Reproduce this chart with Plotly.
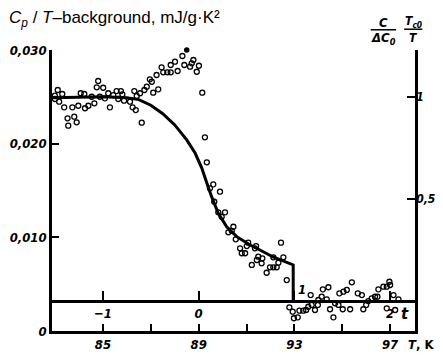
import plotly.graph_objects as go

# ---- data ----
# measured points below Tc (T in K, Cp/T - background in mJ/g K^2)
T_low = [82.99, 83.11, 83.30, 82.99, 83.17, 83.38, 83.72, 83.97, 84.25, 84.39,
         84.64, 84.07, 84.22, 84.53, 84.80, 84.74, 85.01, 84.87, 85.08, 85.22,
         85.29, 85.43, 85.57, 85.75, 85.81, 85.64, 85.88, 86.13, 86.24, 86.37,
         86.31, 86.55, 86.73, 86.62, 83.52, 83.55, 83.80, 83.90, 86.41, 86.83,
         86.96, 87.04, 87.10, 87.31, 87.24, 87.45, 87.52, 87.69, 87.83, 87.83,
         88.01, 88.12, 88.19, 88.32, 88.40, 88.64, 88.71, 88.78, 89.01, 88.92,
         89.15, 89.26, 89.34, 89.61, 89.47, 89.89, 89.65, 89.82, 90.10, 89.96,
         90.45, 90.24, 90.38, 90.55, 90.73, 90.80, 90.94, 91.01, 91.07, 91.40,
         91.22, 91.35, 91.49, 91.66, 91.43, 91.63, 91.84, 91.98, 92.12, 92.26,
         92.44, 92.12, 92.54, 92.33, 92.68]
C_low = [0.02512, 0.02573, 0.02530, 0.02477, 0.02448, 0.02388, 0.02388, 0.02405, 0.02378, 0.02405,
         0.02431, 0.02538, 0.02530, 0.02501, 0.02669, 0.02602, 0.02597, 0.02501, 0.02484, 0.02538,
         0.02388, 0.02519, 0.02562, 0.02562, 0.02527, 0.02477, 0.02459, 0.02448, 0.02388, 0.02359,
         0.02562, 0.02538, 0.02573, 0.02224, 0.02271, 0.02192, 0.02288, 0.02228, 0.02509, 0.02608,
         0.02687, 0.02661, 0.02544, 0.02580, 0.02733, 0.02815, 0.02762, 0.02762, 0.02762, 0.02840,
         0.02875, 0.02776, 0.03011, 0.02936, 0.02840, 0.02822, 0.02858, 0.02893, 0.02832, 0.02768,
         0.02544, 0.02068, 0.01801, 0.01566, 0.01523, 0.01487, 0.01380, 0.01267, 0.01267, 0.01220,
         0.01113, 0.01054, 0.01070, 0.00979, 0.00883, 0.00830, 0.00830, 0.00907, 0.00943, 0.00907,
         0.00705, 0.00883, 0.00793, 0.00776, 0.00758, 0.00723, 0.00622, 0.00680, 0.00680, 0.00680,
         0.00943, 0.00787, 0.00787, 0.00729, 0.00544]
T_filled = [88.50]
C_filled = [0.03000]

# measured points above Tc
T_high = [92.79, 92.93, 92.98, 93.14, 93.21, 93.37, 93.49, 93.58, 93.72, 93.68,
          93.86, 93.98, 94.00, 94.14, 94.19, 94.42, 94.35, 94.49, 94.63, 94.70,
          94.84, 94.88, 95.02, 95.05, 95.19, 95.33, 95.40, 95.65, 95.82, 95.88,
          96.00, 96.09, 96.23, 96.37, 96.47, 96.51, 96.72, 96.86, 96.97, 97.00,
          96.86, 97.21, 97.14, 97.35]
C_high = [0.00253, 0.00206, 0.00136, 0.00146, 0.00217, 0.00217, 0.00224, 0.00259, 0.00278, 0.00384,
          0.00224, 0.00278, 0.00331, 0.00366, 0.00445, 0.00467, 0.00338, 0.00232, 0.00146, 0.00296,
          0.00278, 0.00402, 0.00232, 0.00420, 0.00438, 0.00232, 0.00520, 0.00402, 0.00384, 0.00232,
          0.00278, 0.00320, 0.00349, 0.00366, 0.00366, 0.00445, 0.00473, 0.00473, 0.00526, 0.00491,
          0.00242, 0.00224, 0.00384, 0.00338]

# theoretical curve 1
fit_T = [82.87, 84.0, 85.0, 86.0, 86.5, 87.0, 87.5, 88.0, 88.5, 88.85, 89.13,
         89.34, 89.54, 89.82, 90.17, 90.59, 91.15, 91.56, 92.11, 92.95, 92.95]
fit_C = [0.02490, 0.02497, 0.02500, 0.02490, 0.02470, 0.02410, 0.02320, 0.02200, 0.02040,
         0.01900, 0.01740, 0.01580, 0.01434, 0.01257, 0.01113, 0.01007, 0.00918, 0.00865,
         0.00790, 0.00705, 0.00320]

# background / t-axis level (curve above Tc)
base_level = 0.00320

# axis ticks
T_ticks = [85, 87, 89, 91, 93, 95, 97]
T_ticktext = ["85", "", "89", "", "93", "", "97"]
C_ticks = [0, 0.010, 0.020, 0.030]
C_ticktext = ["0", "0,010", "0,020", "0,030"]
r_ticks = [0.5, 1]
r_ticktext = ["0,5", "1"]
t_ticks = [-1, 0, 1, 2]
t_ticktext = ["\u22121", "0", "", "2"]
t_origin_T = 89.0
t_unit_T = 4.0

# ---- figure ----
x_range = [82.87, 98.04]
y_range = [0, 0.0300]
tick_font = dict(family="DejaVu Sans Condensed", size=13, color="black",
                 style="italic", weight="bold")

fig = go.Figure()

fig.add_trace(go.Scatter(x=fit_T, y=fit_C, mode="lines",
                         line=dict(color="black", width=3), showlegend=False))
fig.add_trace(go.Scatter(x=T_low + T_high, y=C_low + C_high, mode="markers",
                         marker=dict(symbol="circle-open", size=5, color="black",
                                     line=dict(width=1.3, color="black")),
                         cliponaxis=False, showlegend=False))
fig.add_trace(go.Scatter(x=T_filled, y=C_filled, mode="markers",
                         marker=dict(symbol="circle", size=5.5, color="black"),
                         cliponaxis=False, showlegend=False))

# invisible trace on the right axis
fig.add_trace(go.Scatter(x=[x_range[0]], y=[0], yaxis="y2", mode="markers",
                         marker=dict(opacity=0), showlegend=False, hoverinfo="skip"))
# invisible trace on the t axis
t_T = [t_origin_T + t_unit_T * t for t in t_ticks]
fig.add_trace(go.Scatter(x=t_T, y=[base_level] * len(t_T), xaxis="x2", mode="markers",
                         marker=dict(opacity=0), showlegend=False, hoverinfo="skip"))

t_pos = (base_level - y_range[0]) / (y_range[1] - y_range[0])

# the page body adds an 8px offset at the top-left, so the figure is 8px smaller
fig.update_layout(
    width=435, height=347,
    margin=dict(l=44, r=28, t=42, b=24, autoexpand=False),
    paper_bgcolor="white", plot_bgcolor="white",
    xaxis=dict(range=x_range, showline=True, linecolor="black", linewidth=2.5,
               ticks="inside", ticklen=7, tickwidth=1.5, tickcolor="black",
               tickvals=T_ticks, ticktext=T_ticktext, tickfont=tick_font,
               showgrid=False, zeroline=False),
    xaxis2=dict(range=x_range, overlaying="x", anchor="free", position=t_pos,
                side="bottom", showline=True, linecolor="black", linewidth=2.5,
                ticks="inside", ticklen=9, tickwidth=1.5, tickcolor="black",
                tickvals=t_T, ticktext=t_ticktext, tickfont=tick_font,
                showgrid=False, zeroline=False),
    yaxis=dict(range=y_range, showline=True, linecolor="black", linewidth=2.5,
               ticks="inside", ticklen=7, tickwidth=1.5, tickcolor="black",
               tickvals=C_ticks, ticktext=C_ticktext, tickfont=tick_font,
               showgrid=False, zeroline=False),
    yaxis2=dict(range=[-0.153, 1.232], overlaying="y", side="right", anchor="x",
                showline=True, linecolor="black", linewidth=2.5,
                ticks="inside", ticklen=8, tickwidth=1.5, tickcolor="black",
                tickvals=r_ticks, ticktext=r_ticktext, ticklabelstandoff=-4,
                tickfont=dict(family="DejaVu Sans Condensed", size=12, color="black",
                              style="italic", weight="bold"),
                showgrid=False, zeroline=False),
)

label_font = dict(family="DejaVu Sans Condensed", size=13, color="black",
                  style="italic", weight="bold")
ann = []
# left axis title
ann.append(dict(xref="paper", yref="paper", x=-0.123, y=1.112, xanchor="left",
                yanchor="middle", showarrow=False,
                text="<i>C<sub>p</sub></i> / <i>T</i>\u2013background, mJ/g\u00b7K\u00b2",
                font=dict(family="Liberation Sans", size=17, color="black")))
# right axis titles (fractions)
frac_font = dict(family="DejaVu Sans Condensed", size=13, color="black",
                 style="italic", weight="bold")
ann.append(dict(xref="paper", yref="paper", x=0.912, y=1.098, xanchor="center",
                yanchor="middle", showarrow=False, text="C", font=frac_font))
ann.append(dict(xref="paper", yref="paper", x=0.912, y=1.040, xanchor="center",
                yanchor="middle", showarrow=False, text="\u0394C<sub>0</sub>", font=frac_font))
ann.append(dict(xref="paper", yref="paper", x=0.995, y=1.100, xanchor="center",
                yanchor="middle", showarrow=False, text="T<sub>c0</sub>",
                font=dict(family="DejaVu Sans Condensed", size=12, color="black",
                          style="italic", weight="bold")))
ann.append(dict(xref="paper", yref="paper", x=0.995, y=1.044, xanchor="center",
                yanchor="middle", showarrow=False, text="T",
                font=dict(family="DejaVu Sans Condensed", size=12, color="black",
                          style="italic", weight="bold")))
# t-axis labels
ann.append(dict(x=t_origin_T + t_unit_T * 1, y=base_level, xanchor="left", yanchor="bottom",
                xshift=2, yshift=2, showarrow=False, text="1", font=label_font))
ann.append(dict(x=x_range[1], y=base_level, xanchor="right", yanchor="top",
                xshift=-4, yshift=-2, showarrow=False, text="t",
                font=dict(family="DejaVu Sans", size=15, color="black",
                          style="italic", weight="bold")))
# bottom axis unit
ann.append(dict(xref="paper", yref="paper", x=0.975, y=-0.048, xanchor="left",
                yanchor="middle", showarrow=False,
                text="<i>T</i>, K",
                font=dict(family="DejaVu Sans Condensed", size=13, color="black",
                          weight="bold")))
fig.update_layout(annotations=ann)

fig.update_layout(shapes=[
    dict(type="line", xref="paper", yref="paper", x0=0.878, x1=0.948, y0=1.072, y1=1.072,
         line=dict(color="black", width=1.5)),
    dict(type="line", xref="paper", yref="paper", x0=0.970, x1=1.020, y0=1.074, y1=1.074,
         line=dict(color="black", width=1.5)),
])

fig.write_html("out.html")
